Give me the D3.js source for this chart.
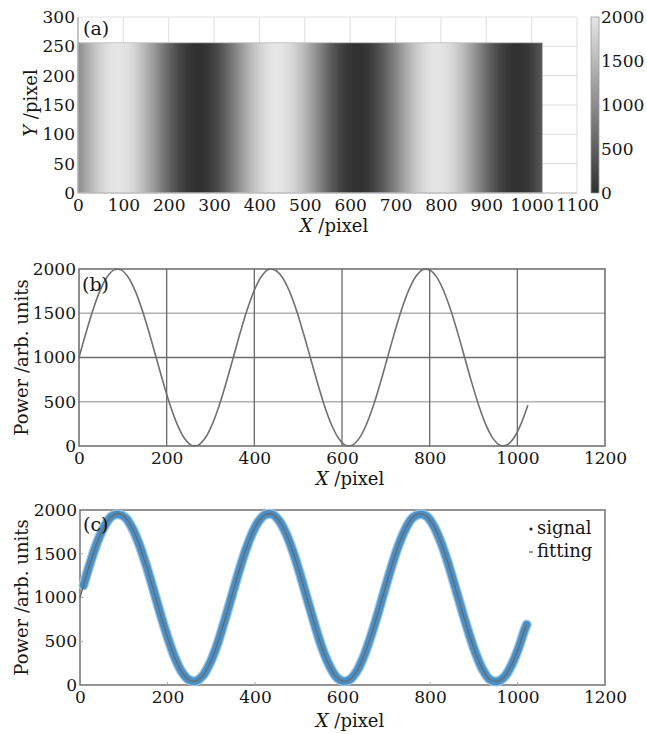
<!DOCTYPE html>
<html><head><meta charset="utf-8">
<script src="https://cdn.jsdelivr.net/npm/d3@7"></script>
<style>
body{margin:0;background:#fff}
svg{display:block}
text{font-family:"DejaVu Serif","Liberation Serif",serif;fill:#151515}
</style>
</head><body>
<svg id="chart" width="647" height="734"></svg>
<script>
// ---------- data ----------
const profileX = [0,16,32,48,64,80,96,112,128,144,160,176,192,208,224,240,256,272,288,304,320,336,
  352,368,384,400,416,432,448,464,480,496,512,528,544,560,576,592,608,624,640,656,672,688,
  704,720,736,752,768,784,800,816,832,848,864,880,896,912,928,944,960,976,992,1008,1024];
const profileY = [1000,1280,1540,1755,1910,1990,1990,1910,1755,1540,1280,1000,720,460,245,90,10,10,90,245,460,720,
  1000,1285,1545,1760,1915,1995,1985,1905,1750,1535,1275,995,715,455,240,88,8,12,92,248,462,722,
  1002,1284,1543,1758,1912,1992,1988,1908,1752,1538,1278,998,716,457,242,89,9,11,91,246,461];

const signalX = [8,24,40,56,72,88,104,120,136,152,168,184,200,216,232,248,264,280,296,312,328,344,
  360,376,392,408,424,440,456,472,488,504,520,536,552,568,584,600,616,632,648,664,680,696,
  712,728,744,760,776,792,808,824,840,856,872,888,904,920,936,952,968,984,1000,1016,1021];
const signalY = [1139,1405,1638,1816,1927,1950,1912,1788,1598,1358,1087,809,550,324,156,62,44,102,239,438,692,965,
  1243,1501,1715,1868,1948,1950,1872,1720,1507,1250,972,699,444,243,104,44,60,152,319,544,802,
  1080,1351,1593,1784,1910,1950,1929,1821,1643,1412,1146,871,606,368,181,66,40,82,203,388,626,690];
const fitX = [0].concat(signalX);
const fitY = [1000].concat([1139,1405,1638,1816,1927,1960,1912,1788,1598,1358,1087,809,550,324,156,62,44,102,239,438,692,965,
  1243,1501,1715,1868,1948,1950,1872,1720,1507,1250,972,699,444,243,104,44,60,152,319,544,802,
  1080,1351,1593,1784,1910,1958,1929,1821,1643,1412,1146,871,606,368,181,66,40,82,203,388,626,690]);

const ticksA_X = [0,100,200,300,400,500,600,700,800,900,1000,1100];
const ticksA_Y = [0,50,100,150,200,250,300];
const ticksCbar = [0,500,1000,1500,2000];
const ticksBC_X = [0,200,400,600,800,1000,1200];
const ticksBC_Y = [0,500,1000,1500,2000];
const imageWidth = 1024, imageHeight = 256;

// ---------- drawing ----------
const svg = d3.select("#chart");
const defs = svg.append("defs");
const grey = d3.scaleLinear().domain([0,2000]).range(["#303030","#e6e6e6"]);
const FS = 17, FL = 18, FP = 19;
const fmt = d3.format("d");

function styleAxis(g){
  g.select(".domain").remove();
  g.selectAll("text").attr("font-size",FS).attr("font-family",'"DejaVu Serif",serif').attr("fill","#151515");
}

// ===== Panel (a) =====
const xA = d3.scaleLinear().domain([0,1100]).range([78,577]);
const yA = d3.scaleLinear().domain([0,300]).range([193,17]);
const gA = svg.append("g");
gA.selectAll(".gvx").data(ticksA_X).join("line")
  .attr("x1",d=>xA(d)).attr("x2",d=>xA(d)).attr("y1",yA(0)).attr("y2",yA(300))
  .attr("stroke","#e2e2e2").attr("stroke-width",1.2);
gA.selectAll(".gvy").data(ticksA_Y).join("line")
  .attr("x1",xA(0)).attr("x2",xA(1100)).attr("y1",d=>yA(d)).attr("y2",d=>yA(d))
  .attr("stroke","#e2e2e2").attr("stroke-width",1.2);

const heat = defs.append("linearGradient").attr("id","heat").attr("x1","0%").attr("x2","100%").attr("y1","0%").attr("y2","0%");
profileX.forEach((x,i)=>heat.append("stop").attr("offset",(x/imageWidth*100)+"%").attr("stop-color",grey(profileY[i])));
gA.append("rect").attr("x",xA(0)).attr("y",yA(imageHeight))
  .attr("width",xA(imageWidth)-xA(0)).attr("height",yA(0)-yA(imageHeight))
  .attr("fill","url(#heat)").attr("stroke","#bbb").attr("stroke-width",0.8);
gA.append("line").attr("x1",xA(0)).attr("x2",xA(0)).attr("y1",yA(0)).attr("y2",yA(300)).attr("stroke","#aaa").attr("stroke-width",1.2);
gA.append("line").attr("x1",xA(0)).attr("x2",xA(1100)).attr("y1",yA(0)).attr("y2",yA(0)).attr("stroke","#bbb").attr("stroke-width",1.2);

gA.append("g").attr("transform",`translate(0,${yA(0)})`)
  .call(d3.axisBottom(xA).tickValues(ticksA_X).tickFormat(fmt).tickSize(0).tickPadding(6)).call(styleAxis);
gA.append("g").attr("transform",`translate(${xA(0)},0)`)
  .call(d3.axisLeft(yA).tickValues(ticksA_Y).tickFormat(fmt).tickSize(0).tickPadding(3)).call(styleAxis);

// colorbar
const cbY = d3.scaleLinear().domain([0,2000]).range([193,17]);
const cbg = defs.append("linearGradient").attr("id","cbar").attr("x1","0%").attr("x2","0%").attr("y1","100%").attr("y2","0%");
ticksCbar.forEach(v=>cbg.append("stop").attr("offset",(v/2000*100)+"%").attr("stop-color",grey(v)));
gA.append("rect").attr("x",591).attr("y",cbY(2000)).attr("width",8).attr("height",cbY(0)-cbY(2000))
  .attr("fill","url(#cbar)").attr("stroke","#999").attr("stroke-width",0.8);
gA.append("g").attr("transform","translate(599,0)")
  .call(d3.axisRight(cbY).tickValues(ticksCbar).tickFormat(fmt).tickSize(0).tickPadding(2)).call(styleAxis);

gA.append("text").attr("x",83).attr("y",35).attr("font-size",FP).text("(a)");
const xlA = gA.append("text").attr("x",334).attr("y",232).attr("text-anchor","middle").attr("font-size",FL);
xlA.append("tspan").attr("font-style","italic").text("X");
xlA.append("tspan").text(" /pixel");
const ylA = gA.append("text").attr("transform","translate(37,103) rotate(-90)").attr("text-anchor","middle").attr("font-size",FL);
ylA.append("tspan").attr("font-style","italic").text("Y");
ylA.append("tspan").text(" /pixel");

// ===== Panel (b) =====
const xB = d3.scaleLinear().domain([0,1200]).range([79,605]);
const yB = d3.scaleLinear().domain([0,2000]).range([446,269]);
const gB = svg.append("g");
gB.selectAll(".hl").data([500,1500]).join("line")
  .attr("x1",xB(0)).attr("x2",xB(1200)).attr("y1",d=>yB(d)).attr("y2",d=>yB(d))
  .attr("stroke","#b0b0b0").attr("stroke-width",1.3);
gB.selectAll(".hd").data([1000]).join("line")
  .attr("x1",xB(0)).attr("x2",xB(1200)).attr("y1",d=>yB(d)).attr("y2",d=>yB(d))
  .attr("stroke","#6a6a6a").attr("stroke-width",1.3);
gB.selectAll(".vl").data([200,400,600,800,1000]).join("line")
  .attr("x1",d=>xB(d)).attr("x2",d=>xB(d)).attr("y1",yB(0)).attr("y2",yB(2000))
  .attr("stroke","#6a6a6a").attr("stroke-width",1.3);
gB.append("rect").attr("x",xB(0)).attr("y",yB(2000)).attr("width",xB(1200)-xB(0)).attr("height",yB(0)-yB(2000))
  .attr("fill","none").attr("stroke","#6a6a6a").attr("stroke-width",1.5);
const lineB = d3.line().x((d,i)=>xB(profileX[i])).y(d=>yB(d)).curve(d3.curveCatmullRom);
gB.append("path").attr("d",lineB(profileY)).attr("fill","none").attr("stroke","#707070").attr("stroke-width",1.6);
gB.append("g").attr("transform",`translate(0,${yB(0)})`)
  .call(d3.axisBottom(xB).tickValues(ticksBC_X).tickFormat(fmt).tickSize(0).tickPadding(6)).call(styleAxis);
gB.append("g").attr("transform",`translate(${xB(0)},0)`)
  .call(d3.axisLeft(yB).tickValues(ticksBC_Y).tickFormat(fmt).tickSize(0).tickPadding(3)).call(styleAxis);
gB.append("text").attr("x",82).attr("y",291).attr("font-size",FP).text("(b)");
const xlB = gB.append("text").attr("x",350).attr("y",485).attr("text-anchor","middle").attr("font-size",FL);
xlB.append("tspan").attr("font-style","italic").text("X");
xlB.append("tspan").text(" /pixel");
gB.append("text").attr("transform",`translate(28,${(yB(0)+yB(2000))/2}) rotate(-90)`).attr("text-anchor","middle")
  .attr("font-size",FL).text("Power /arb. units");

// ===== Panel (c) =====
const xC = d3.scaleLinear().domain([0,1200]).range([80,605]);
const yC = d3.scaleLinear().domain([0,2000]).range([685,510]);
const gC = svg.append("g");
gC.append("rect").attr("x",xC(0)).attr("y",yC(2000)).attr("width",xC(1200)-xC(0)).attr("height",yC(0)-yC(2000))
  .attr("fill","none").attr("stroke","#7a7a7a").attr("stroke-width",1.6);
gC.selectAll(".tb").data([200,400,600,800,1000]).join("line")
  .attr("x1",d=>xC(d)).attr("x2",d=>xC(d)).attr("y1",yC(0)).attr("y2",yC(0)-3).attr("stroke","#aaa");
gC.selectAll(".tl").data([500,1000,1500]).join("line")
  .attr("x1",xC(0)).attr("x2",xC(0)+3).attr("y1",d=>yC(d)).attr("y2",d=>yC(d)).attr("stroke","#aaa");
const lineSig = d3.line().x((d,i)=>xC(signalX[i])).y(d=>yC(d)).curve(d3.curveCatmullRom);
gC.append("path").attr("d",lineSig(signalY)).attr("fill","none").attr("stroke","#9cc6e6")
  .attr("stroke-width",10).attr("stroke-linecap","round").attr("stroke-linejoin","round");
gC.append("path").attr("d",lineSig(signalY)).attr("fill","none").attr("stroke","#4a90c8")
  .attr("stroke-width",7.5).attr("stroke-linecap","round").attr("stroke-linejoin","round");
const lineFit = d3.line().x((d,i)=>xC(fitX[i])).y(d=>yC(d)).curve(d3.curveCatmullRom);
gC.append("path").attr("d",lineFit(fitY)).attr("fill","none").attr("stroke","#6a6a6a").attr("stroke-width",1.4);
gC.append("g").attr("transform",`translate(0,${yC(0)})`)
  .call(d3.axisBottom(xC).tickValues(ticksBC_X).tickFormat(fmt).tickSize(0).tickPadding(6)).call(styleAxis);
gC.append("g").attr("transform",`translate(${xC(0)},0)`)
  .call(d3.axisLeft(yC).tickValues(ticksBC_Y).tickFormat(fmt).tickSize(0).tickPadding(3)).call(styleAxis);
gC.append("text").attr("x",83).attr("y",531).attr("font-size",FP).text("(c)");
const xlC = gC.append("text").attr("x",350).attr("y",727).attr("text-anchor","middle").attr("font-size",FL);
xlC.append("tspan").attr("font-style","italic").text("X");
xlC.append("tspan").text(" /pixel");
gC.append("text").attr("transform",`translate(28,${(yC(0)+yC(2000))/2}) rotate(-90)`).attr("text-anchor","middle")
  .attr("font-size",FL).text("Power /arb. units");
// legend
gC.append("circle").attr("cx",531).attr("cy",529).attr("r",1.6).attr("fill","#222");
gC.append("text").attr("x",537).attr("y",534).attr("font-size",FL).text("signal");
gC.append("line").attr("x1",529).attr("x2",533).attr("y1",552).attr("y2",552).attr("stroke","#777").attr("stroke-width",1.5);
gC.append("text").attr("x",537).attr("y",557).attr("font-size",FL).text("fitting");
</script>
</body></html>
